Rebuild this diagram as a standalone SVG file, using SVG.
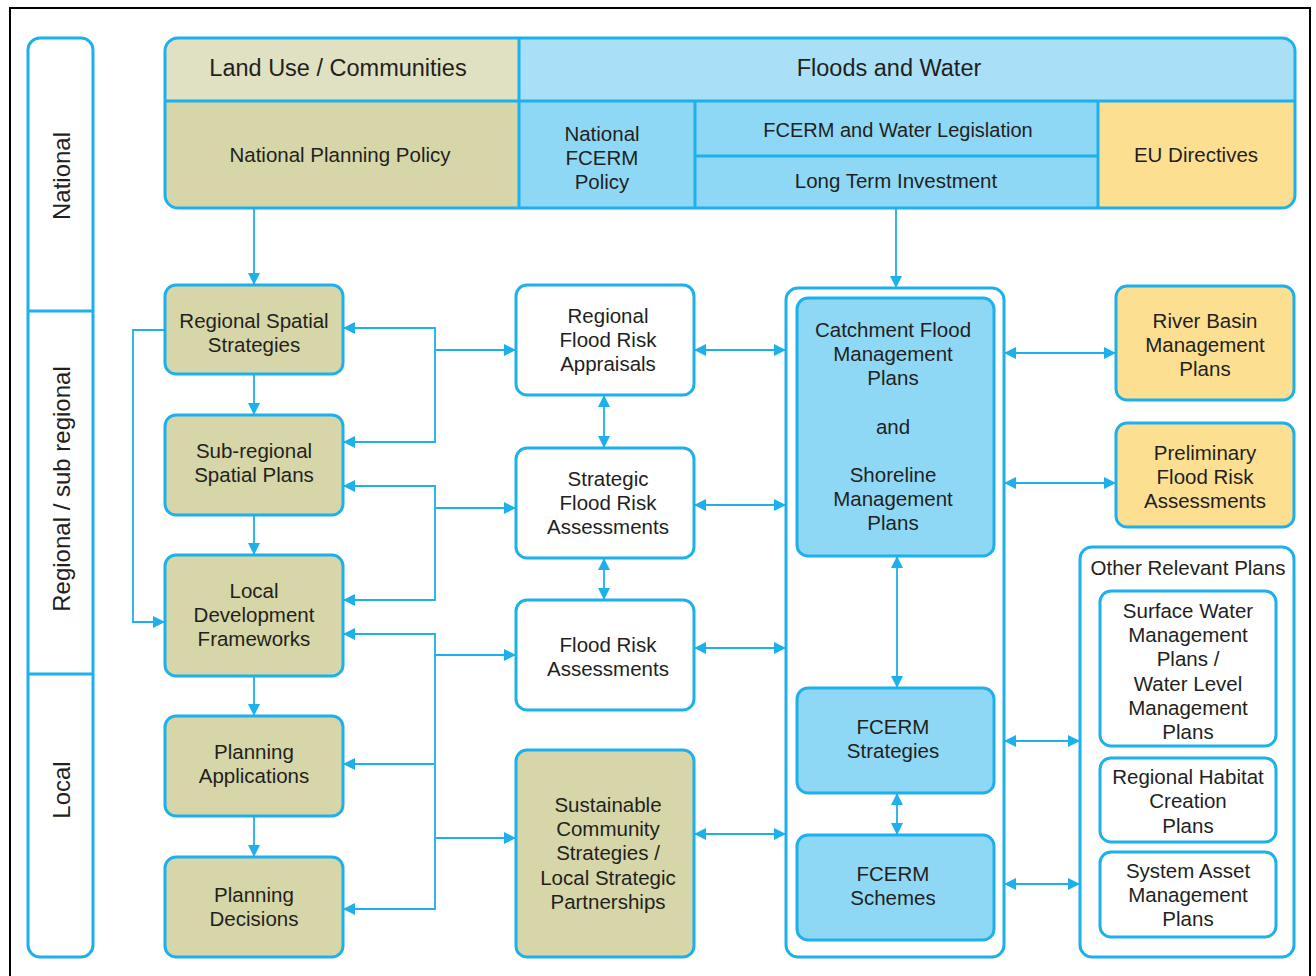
<svg xmlns="http://www.w3.org/2000/svg" width="1316" height="976" viewBox="0 0 1316 976">
<style>
  text { font-family: "Liberation Sans", Arial, sans-serif; font-size: 20.5px; fill: #231f20; text-anchor: middle; dominant-baseline: central; }
  .hdr { font-size: 23.5px; }
  .band { font-size: 24px; }
  .leg { font-size: 20px; }
  .box { stroke: #1cb0ec; stroke-width: 3; }
  .olive { fill: #d6d6a9; }
  .blue { fill: #8fd8f5; }
  .lblue { fill: #a9e0f8; }
  .amber { fill: #fddf92; }
  .white { fill: #ffffff; }
  .conn { fill: none; stroke: #1cb0ec; stroke-width: 1.8; }
  .grid { stroke: #1cb0ec; stroke-width: 3; fill: none; }
</style>
<defs>
  <marker id="ah" viewBox="0 0 12 12" refX="12" refY="6" markerWidth="12" markerHeight="12" markerUnits="userSpaceOnUse" orient="auto-start-reverse">
    <path d="M0,0 L12,6 L0,12 z" fill="#1cb0ec"/>
  </marker>
  <clipPath id="hclip"><rect x="165" y="38" width="1130" height="170" rx="13"/></clipPath>
</defs>
<rect x="0" y="0" width="1316" height="976" fill="#ffffff"/>
<path d="M10,976 V8 H1310 V976" fill="none" stroke="#000" stroke-width="2"/>

<g id="levels">
  <rect class="box white" x="28" y="38" width="65" height="919" rx="12"/>
  <line class="grid" x1="28" y1="311" x2="93" y2="311"/>
  <line class="grid" x1="28" y1="674" x2="93" y2="674"/>
  <text class="band" transform="translate(61,176) rotate(-90)">National</text>
  <text class="band" transform="translate(61,489) rotate(-90)">Regional / sub regional</text>
  <text class="band" transform="translate(61,790) rotate(-90)">Local</text>
</g>

<g id="header">
  <g clip-path="url(#hclip)">
    <rect x="165" y="38" width="354" height="63" fill="#e0e0c2"/>
    <rect class="lblue" x="519" y="38" width="776" height="63"/>
    <rect class="olive" x="165" y="101" width="354" height="107"/>
    <rect class="blue" x="519" y="101" width="579" height="107"/>
    <rect class="amber" x="1098" y="101" width="197" height="107"/>
  </g>
  <rect class="box" fill="none" x="165" y="38" width="1130" height="170" rx="13"/>
  <line class="grid" x1="165" y1="101" x2="1295" y2="101"/>
  <line class="grid" x1="519" y1="38" x2="519" y2="208"/>
  <line class="grid" x1="695" y1="101" x2="695" y2="208"/>
  <line class="grid" x1="1098" y1="101" x2="1098" y2="208"/>
  <line class="grid" x1="695" y1="156" x2="1098" y2="156"/>
</g>
<g id="land-use"><text class="hdr" x="338" y="68">Land Use / Communities</text></g>
<g id="floods-water"><text class="hdr" x="889" y="68">Floods and Water</text></g>
<g id="national-planning-policy"><text x="340" y="154">National Planning Policy</text></g>
<g id="national-fcerm-policy"><text x="602" y="133">National</text><text x="602" y="157">FCERM</text><text x="602" y="181">Policy</text></g>
<g id="fcerm-legislation"><text class="leg" x="898" y="130">FCERM and Water Legislation</text></g>
<g id="long-term-investment"><text x="896" y="180">Long Term Investment</text></g>
<g id="eu-directives"><text x="1196" y="154">EU Directives</text></g>

<g id="rss"><rect class="box olive" x="165" y="285" width="178" height="89" rx="11"/><text x="254" y="320">Regional Spatial</text><text x="254" y="344">Strategies</text></g>
<g id="srsp"><rect class="box olive" x="165" y="415" width="178" height="100" rx="11"/><text x="254" y="450">Sub-regional</text><text x="254" y="474">Spatial Plans</text></g>
<g id="ldf"><rect class="box olive" x="165" y="555" width="178" height="121" rx="11"/><text x="254" y="590">Local</text><text x="254" y="614">Development</text><text x="254" y="638">Frameworks</text></g>
<g id="planning-applications"><rect class="box olive" x="165" y="716" width="178" height="100" rx="11"/><text x="254" y="751">Planning</text><text x="254" y="775">Applications</text></g>
<g id="planning-decisions"><rect class="box olive" x="165" y="857" width="178" height="100" rx="11"/><text x="254" y="894">Planning</text><text x="254" y="918">Decisions</text></g>

<g id="rfra"><rect class="box white" x="516" y="285" width="178" height="110" rx="11"/><text x="608" y="315">Regional</text><text x="608" y="339">Flood Risk</text><text x="608" y="363">Appraisals</text></g>
<g id="sfra"><rect class="box white" x="516" y="448" width="178" height="110" rx="11"/><text x="608" y="478">Strategic</text><text x="608" y="502">Flood Risk</text><text x="608" y="526">Assessments</text></g>
<g id="fra"><rect class="box white" x="516" y="600" width="178" height="110" rx="11"/><text x="608" y="644">Flood Risk</text><text x="608" y="668">Assessments</text></g>
<g id="scs"><rect class="box olive" x="516" y="750" width="178" height="207" rx="11"/><text x="608" y="804">Sustainable</text><text x="608" y="828">Community</text><text x="608" y="852">Strategies /</text><text x="608" y="877">Local Strategic</text><text x="608" y="901">Partnerships</text></g>

<g id="fcerm-container"><rect class="box white" x="786" y="288" width="218" height="669" rx="12"/></g>
<g id="cfmp"><rect class="box blue" x="797" y="298" width="197" height="258" rx="11"/><text x="893" y="329">Catchment Flood</text><text x="893" y="353">Management</text><text x="893" y="377">Plans</text><text x="893" y="426">and</text><text x="893" y="474">Shoreline</text><text x="893" y="498">Management</text><text x="893" y="522">Plans</text></g>
<g id="fcerm-strategies"><rect class="box blue" x="797" y="688" width="197" height="105" rx="11"/><text x="893" y="726">FCERM</text><text x="893" y="750">Strategies</text></g>
<g id="fcerm-schemes"><rect class="box blue" x="797" y="835" width="197" height="105" rx="11"/><text x="893" y="873">FCERM</text><text x="893" y="897">Schemes</text></g>

<g id="rbmp"><rect class="box amber" x="1116" y="286" width="178" height="114" rx="11"/><text x="1205" y="320">River Basin</text><text x="1205" y="344">Management</text><text x="1205" y="368">Plans</text></g>
<g id="pfra"><rect class="box amber" x="1116" y="423" width="178" height="104" rx="11"/><text x="1205" y="452">Preliminary</text><text x="1205" y="476">Flood Risk</text><text x="1205" y="500">Assessments</text></g>

<g id="other-plans"><rect class="box white" x="1080" y="547" width="214" height="410" rx="12"/><text x="1188" y="567">Other Relevant Plans</text></g>
<g id="swmp"><rect class="box white" x="1100" y="591" width="176" height="155" rx="11"/><text x="1188" y="610">Surface Water</text><text x="1188" y="634">Management</text><text x="1188" y="658">Plans /</text><text x="1188" y="683">Water Level</text><text x="1188" y="707">Management</text><text x="1188" y="731">Plans</text></g>
<g id="rhcp"><rect class="box white" x="1100" y="758" width="176" height="84" rx="11"/><text x="1188" y="776">Regional Habitat</text><text x="1188" y="800">Creation</text><text x="1188" y="825">Plans</text></g>
<g id="samp"><rect class="box white" x="1100" y="852" width="176" height="85" rx="11"/><text x="1188" y="870">System Asset</text><text x="1188" y="894">Management</text><text x="1188" y="918">Plans</text></g>

<g id="connectors" class="conn">
  <path d="M254,208 V285" marker-end="url(#ah)"/>
  <path d="M254,374 V415" marker-end="url(#ah)"/>
  <path d="M254,515 V555" marker-end="url(#ah)"/>
  <path d="M254,676 V716" marker-end="url(#ah)"/>
  <path d="M254,816 V857" marker-end="url(#ah)"/>
  <path d="M165,330 H133 V622 H165" marker-end="url(#ah)"/>
  <path d="M343,328 H435 V442 H343" marker-start="url(#ah)" marker-end="url(#ah)"/>
  <path d="M435,350 H516" marker-end="url(#ah)"/>
  <path d="M343,486 H435 V600 H343" marker-start="url(#ah)" marker-end="url(#ah)"/>
  <path d="M435,508 H516" marker-end="url(#ah)"/>
  <path d="M343,634 H435 V909 H343" marker-start="url(#ah)" marker-end="url(#ah)"/>
  <path d="M435,764 H343" marker-end="url(#ah)"/>
  <path d="M435,655 H516" marker-end="url(#ah)"/>
  <path d="M435,838 H516" marker-end="url(#ah)"/>
  <path d="M604,395 V448" marker-start="url(#ah)" marker-end="url(#ah)"/>
  <path d="M604,558 V600" marker-start="url(#ah)" marker-end="url(#ah)"/>
  <path d="M694,350 H786" marker-start="url(#ah)" marker-end="url(#ah)"/>
  <path d="M694,505 H786" marker-start="url(#ah)" marker-end="url(#ah)"/>
  <path d="M694,648 H786" marker-start="url(#ah)" marker-end="url(#ah)"/>
  <path d="M694,834 H786" marker-start="url(#ah)" marker-end="url(#ah)"/>
  <path d="M896,208 V288" marker-end="url(#ah)"/>
  <path d="M897,556 V688" marker-start="url(#ah)" marker-end="url(#ah)"/>
  <path d="M897,793 V835" marker-start="url(#ah)" marker-end="url(#ah)"/>
  <path d="M1004,353 H1116" marker-start="url(#ah)" marker-end="url(#ah)"/>
  <path d="M1004,483 H1116" marker-start="url(#ah)" marker-end="url(#ah)"/>
  <path d="M1004,741 H1080" marker-start="url(#ah)" marker-end="url(#ah)"/>
  <path d="M1004,884 H1080" marker-start="url(#ah)" marker-end="url(#ah)"/>
</g>
</svg>
